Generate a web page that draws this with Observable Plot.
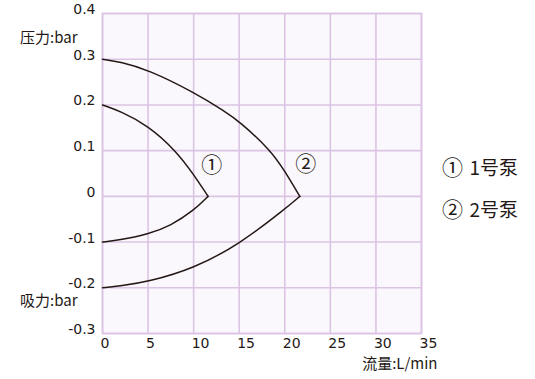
<!DOCTYPE html>
<html>
<head>
<meta charset="utf-8">
<script src="https://cdn.jsdelivr.net/npm/d3@7"></script>
<script src="https://cdn.jsdelivr.net/npm/@observablehq/plot@0.6"></script>
<style>
  html, body { margin: 0; padding: 0; background: #ffffff; }
  #chart { position: relative; width: 535px; height: 379px; }
</style>
</head>
<body>
<div id="chart"></div>
<script>
// ---- data ----
const xTicks = [0, 5, 10, 15, 20, 25, 30, 35];
const yTicks = [-0.3, -0.2, -0.1, 0, 0.1, 0.2, 0.3, 0.4];
const yTickLabels = ["-0.3", "-0.2", "-0.1", "0", "0.1", "0.2", "0.3", "0.4"];

const pump1UpperX = [0, 2, 5, 8.05, 10, 11.58];
const pump1UpperY = [0.2, 0.186, 0.155, 0.1, 0.048, 0];
const pump1LowerX = [0, 2, 5, 7.5, 10, 11.58];
const pump1LowerY = [-0.1, -0.095, -0.083, -0.064, -0.031, 0];

const pump2UpperX = [0, 2, 5, 10, 13.5, 15, 18.5, 20, 21.65];
const pump2UpperY = [0.3, 0.294, 0.277, 0.228, 0.185, 0.164, 0.1, 0.055, 0];
const pump2LowerX = [0, 2, 5, 10, 15, 20, 21.65];
const pump2LowerY = [-0.2, -0.196, -0.187, -0.158, -0.105, -0.028, 0];

const curveLabels = ["①", "②"];
const curveLabelX = [12.0, 22.3];
const curveLabelY = [0.067, 0.07];

const legendMarks = ["①", "②"];
const legendNames = ["1号泵", "2号泵"];

const pressureLabel = "压力:bar";
const suctionLabel = "吸力:bar";
const flowLabel = "流量:L/min";

// ---- build rows ----
function rows(xs, ys, seg) { return xs.map((x, i) => ({x, y: ys[i], seg})); }
const curves = [
  ...rows(pump1UpperX, pump1UpperY, "p1u"),
  ...rows(pump1LowerX, pump1LowerY, "p1l"),
  ...rows(pump2UpperX, pump2UpperY, "p2u"),
  ...rows(pump2LowerX, pump2LowerY, "p2l")
];
const labelRows = curveLabels.map((t, i) => ({t, x: curveLabelX[i], y: curveLabelY[i]}));

const ink = "#231815";
const gridC = "#dcc4e4";
const numFont = "'DejaVu Sans', 'Noto Sans CJK SC', sans-serif";
const cjkFont = "'Noto Sans CJK SC', 'DejaVu Sans', sans-serif";
const circFont = "'Noto Sans CJK JP', 'Noto Sans CJK SC', serif";

const chart = Plot.plot({
  width: 535,
  height: 379,
  marginLeft: 102,
  marginRight: 114,
  marginTop: 13,
  marginBottom: 46,
  style: { fontFamily: numFont, background: "#ffffff", color: ink },
  x: { domain: [0, 35], ticks: xTicks },
  y: { domain: [-0.3, 0.4], ticks: yTicks },
  marks: [
    Plot.frame({ fill: "#faf8fc", stroke: null }),
    Plot.gridX(xTicks, { stroke: gridC, strokeOpacity: 1, strokeWidth: 1.6 }),
    Plot.gridY(yTicks, { stroke: gridC, strokeOpacity: 1, strokeWidth: 1.6 }),
    Plot.frame({ stroke: gridC, strokeWidth: 1.6 }),
    Plot.axisX(xTicks, {
      tickSize: 0, tickPadding: 0, textAnchor: "start", dx: -2, dy: 5,
      fontSize: 14, fill: ink, label: null
    }),
    Plot.axisY(yTicks, {
      tickSize: 0, tickPadding: 7, dy: -4,
      tickFormat: (d) => yTickLabels[yTicks.indexOf(d)],
      fontSize: 14, fill: ink, label: null
    }),
    Plot.line(curves, {
      x: "x", y: "y", z: "seg", stroke: ink, strokeWidth: 1.5, curve: "basis"
    }),
    Plot.text(labelRows, {
      x: "x", y: "y", text: "t", fontSize: 21, fill: ink, fontFamily: circFont
    }),
    Plot.text([pressureLabel], {
      frameAnchor: "top-left", textAnchor: "end", dx: -25, dy: 19,
      fontSize: 15, fill: ink, fontFamily: cjkFont
    }),
    Plot.text([suctionLabel], {
      frameAnchor: "bottom-left", textAnchor: "end", dx: -25, dy: -28,
      fontSize: 15, fill: ink, fontFamily: cjkFont
    }),
    Plot.text([flowLabel], {
      frameAnchor: "bottom-right", textAnchor: "end", dx: 16, dy: 35,
      fontSize: 15, fill: ink, fontFamily: cjkFont
    }),
    Plot.text([legendMarks[0]], {
      frameAnchor: "right", textAnchor: "middle", dx: 31, dy: -5,
      fontSize: 21, fill: ink, fontFamily: circFont
    }),
    Plot.text([legendNames[0]], {
      frameAnchor: "right", textAnchor: "start", dx: 48, dy: -5,
      fontSize: 19, fill: ink, fontFamily: cjkFont
    }),
    Plot.text([legendMarks[1]], {
      frameAnchor: "right", textAnchor: "middle", dx: 31, dy: 37,
      fontSize: 21, fill: ink, fontFamily: circFont
    }),
    Plot.text([legendNames[1]], {
      frameAnchor: "right", textAnchor: "start", dx: 48, dy: 37,
      fontSize: 19, fill: ink, fontFamily: cjkFont
    })
  ]
});
document.getElementById("chart").appendChild(chart);
</script>
</body>
</html>
